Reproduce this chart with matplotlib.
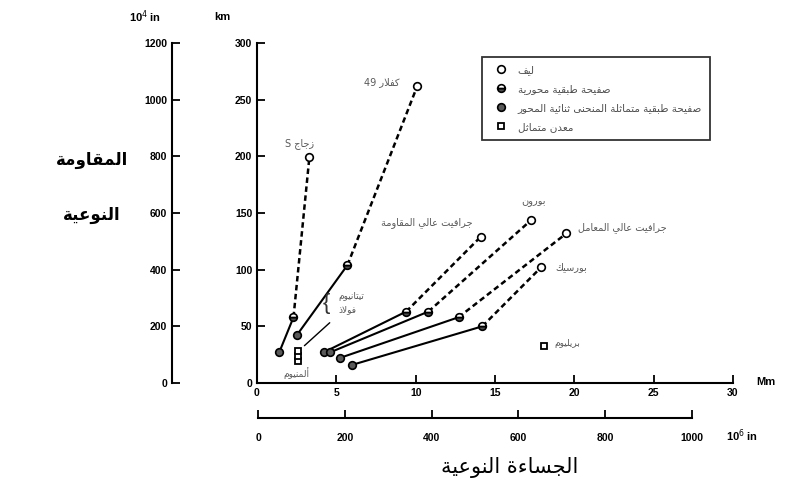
import re
import matplotlib
matplotlib.use("Agg")
import matplotlib.pyplot as plt

plt.rcParams['font.family'] = ['Liberation Sans', 'DejaVu Sans']

# --- Arabic shaping (matplotlib has no bidi / joining) ---
_BASES = [('\u0622', 0xFE81, 2), ('\u0623', 0xFE83, 2), ('\u0624', 0xFE85, 2), ('\u0625', 0xFE87, 2),
          ('\u0626', 0xFE89, 4), ('\u0627', 0xFE8D, 2), ('\u0628', 0xFE8F, 4), ('\u0629', 0xFE93, 2),
          ('\u062A', 0xFE95, 4), ('\u062B', 0xFE99, 4), ('\u062C', 0xFE9D, 4), ('\u062D', 0xFEA1, 4),
          ('\u062E', 0xFEA5, 4), ('\u062F', 0xFEA9, 2), ('\u0630', 0xFEAB, 2), ('\u0631', 0xFEAD, 2),
          ('\u0632', 0xFEAF, 2), ('\u0633', 0xFEB1, 4), ('\u0634', 0xFEB5, 4), ('\u0635', 0xFEB9, 4),
          ('\u0636', 0xFEBD, 4), ('\u0637', 0xFEC1, 4), ('\u0638', 0xFEC5, 4), ('\u0639', 0xFEC9, 4),
          ('\u063A', 0xFECD, 4), ('\u0641', 0xFED1, 4), ('\u0642', 0xFED5, 4), ('\u0643', 0xFED9, 4),
          ('\u0644', 0xFEDD, 4), ('\u0645', 0xFEE1, 4), ('\u0646', 0xFEE5, 4), ('\u0647', 0xFEE9, 4),
          ('\u0648', 0xFEED, 2), ('\u0649', 0xFEEF, 2), ('\u064A', 0xFEF1, 4)]
FORMS = {c: (b, n) for c, b, n in _BASES}
FORMS['\u0621'] = (0xFE80, 1)
LAM_ALEF = {'\u0622': 0xFEF5, '\u0623': 0xFEF7, '\u0625': 0xFEF9, '\u0627': 0xFEFB}


def shape(word):
    out = []
    i = 0
    prev_joins = False
    while i < len(word):
        c = word[i]
        if c not in FORMS:
            out.append(c)
            prev_joins = False
            i += 1
            continue
        nxt = word[i + 1] if i + 1 < len(word) else ''
        if c == '\u0644' and nxt in LAM_ALEF:
            out.append(chr(LAM_ALEF[nxt] + (1 if prev_joins else 0)))
            prev_joins = False
            i += 2
            continue
        base, n = FORMS[c]
        jp = prev_joins and n >= 2
        jn = n == 4 and nxt in FORMS
        if jp and jn:
            out.append(chr(base + 3))
        elif jn:
            out.append(chr(base + 2))
        elif jp:
            out.append(chr(base + 1))
        else:
            out.append(chr(base))
        prev_joins = n == 4
        i += 1
    return ''.join(out)


def ar(text):
    lines = []
    for line in text.split('\n'):
        runs = re.findall(r'[A-Za-z0-9.]+|[^A-Za-z0-9.]+', line)
        runs = [r if re.match(r'[A-Za-z0-9.]', r) else shape(r)[::-1] for r in runs]
        lines.append(''.join(runs[::-1]))
    return '\n'.join(lines)


# --- data: specific modulus (Mm) / specific strength (km) ---
materials = ['زجاج S', 'كفلار 49', 'جرافيت عالي المقاومة', 'بورون', 'جرافيت عالي المعامل', 'بورسيك']
fiber_x = [3.3, 10.1, 14.1, 17.3, 19.5, 17.9]
fiber_y = [199, 262, 129, 144, 132, 102]
uni_x = [2.3, 5.7, 9.4, 10.8, 12.7, 14.2]
uni_y = [58, 104, 63, 63, 58, 50]
quasi_x = [1.4, 2.5, 4.2, 4.6, 5.2, 6.0]
quasi_y = [27, 42, 27, 27, 22, 16]

metal_names = ['ألمنيوم', 'فولاذ', 'تيتانيوم', 'بريليوم']
metal_x = [2.6, 2.6, 2.6, 18.1]
metal_y = [19, 24, 28, 33]

legend_labels = ['ليف', 'صفيحة طبقية محورية', 'صفيحة طبقية متماثلة المنحنى ثنائية المحور', 'معدن متماثل']

fig = plt.figure(figsize=(7.9, 4.93), dpi=100)
ax = fig.add_axes([257 / 790, 110 / 493, 476 / 790, 340 / 493])

for i in range(len(materials)):
    ax.plot([quasi_x[i], uni_x[i]], [quasi_y[i], uni_y[i]], color='black', lw=1.5, zorder=2)
    ax.plot([uni_x[i], fiber_x[i]], [uni_y[i], fiber_y[i]], color='black', lw=1.8,
            dashes=(2.2, 1.4), zorder=2)

mk = dict(ms=5.5, mec='black', mew=1.2, ls='none', zorder=3)
h_fib, = ax.plot(fiber_x, fiber_y, 'o', mfc='white', **mk)
h_uni, = ax.plot(uni_x, uni_y, 'o', mfc='0.3', fillstyle='bottom', markerfacecoloralt='white', **mk)
h_qua, = ax.plot(quasi_x, quasi_y, 'o', mfc='0.35', **mk)
h_met, = ax.plot(metal_x, metal_y, 's', mfc='white', ms=5, mec='black', mew=1.3, ls='none', zorder=3)

# labels for the fibres
fiber_off = [(-10, 14, 'center'), (-18, 4, 'right'), (-8, 14, 'right'),
             (2, 18, 'center'), (12, 6, 'left'), (14, 0, 'left')]
for i, name in enumerate(materials):
    dx, dy, ha = fiber_off[i]
    ax.annotate(ar(name), (fiber_x[i], fiber_y[i]), xytext=(dx, dy), textcoords='offset pixels',
                ha=ha, va='center', fontsize=7, color='0.35', family=['DejaVu Sans'])

ax.annotate(ar(metal_names[0]), (metal_x[0], metal_y[0]), xytext=(-2, -12), textcoords='offset pixels',
            ha='center', va='center', fontsize=6.5, color='0.35', family=['DejaVu Sans'])
ax.annotate(ar(metal_names[3]), (metal_x[3], metal_y[3]), xytext=(10, 2), textcoords='offset pixels',
            ha='left', va='center', fontsize=6.5, color='0.35', family=['DejaVu Sans'])
ax.annotate(ar(metal_names[2] + '\n' + metal_names[1]), (metal_x[2], metal_y[2]), xytext=(40, 48),
            textcoords='offset pixels', ha='left', va='center', fontsize=6.5, color='0.35',
            family=['DejaVu Sans'], linespacing=1.6,
            arrowprops=dict(arrowstyle='-', color='black', lw=1, shrinkA=6, shrinkB=6))
ax.annotate('{', (metal_x[2], metal_y[2]), xytext=(28, 48), textcoords='offset pixels',
            ha='center', va='center', fontsize=16, color='0.2')

ax.set_xlim(0, 30)
ax.set_ylim(0, 300)
ax.set_xticks(range(0, 31, 5))
ax.set_yticks(range(0, 301, 50))
ax.spines[['top', 'right']].set_visible(False)
ax.spines[['left', 'bottom']].set_linewidth(1.5)
ax.tick_params(direction='in', length=6, width=1.3, labelsize=7.5)
for t in ax.get_xticklabels() + ax.get_yticklabels():
    t.set_fontweight('bold')

leg = ax.legend([h_fib, h_uni, h_qua, h_met], [ar(s) for s in legend_labels],
                loc='upper left', bbox_to_anchor=(0.462, 0.975), frameon=True,
                fancybox=False, edgecolor='black', handletextpad=0.6, borderpad=0.8,
                labelspacing=0.85, prop={'family': ['DejaVu Sans'], 'size': 7.5})
leg.get_frame().set_linewidth(1.3)
for t in leg.get_texts():
    t.set_color('0.3')

# second y scale (10^4 in)
ax_in = fig.add_axes([172 / 790, 110 / 493, 0.001, 340 / 493])
ax_in.set_ylim(0, 1200)
ax_in.set_yticks(range(0, 1201, 200))
ax_in.set_xticks([])
ax_in.spines[['top', 'right', 'bottom']].set_visible(False)
ax_in.spines['left'].set_linewidth(1.5)
ax_in.tick_params(direction='in', length=6, width=1.3, labelsize=7.5)
for t in ax_in.get_yticklabels():
    t.set_fontweight('bold')

# second x scale (10^6 in)
ax_bx = fig.add_axes([258 / 790, 75 / 493, 434 / 790, 0.001])
ax_bx.set_xlim(0, 1000)
ax_bx.set_xticks(range(0, 1001, 200))
ax_bx.set_yticks([])
ax_bx.spines[['top', 'right', 'left']].set_visible(False)
ax_bx.spines['bottom'].set_linewidth(1.5)
ax_bx.tick_params(direction='in', length=6, width=1.3, labelsize=7.5, pad=11)
for t in ax_bx.get_xticklabels():
    t.set_fontweight('bold')

# units and axis titles
fig.text(145 / 790, 1 - 17 / 493, '10$^4$ in', ha='center', va='center', fontsize=8, fontweight='bold')
fig.text(222 / 790, 1 - 17 / 493, 'km', ha='center', va='center', fontsize=8, fontweight='bold')
fig.text(766 / 790, 1 - 382 / 493, 'Mm', ha='center', va='center', fontsize=8, fontweight='bold')
fig.text(742 / 790, 1 - 436 / 493, '10$^6$ in', ha='center', va='center', fontsize=8, fontweight='bold')
fig.text(92 / 790, 1 - 160 / 493, ar('المقاومة'), ha='center', va='center', fontsize=12,
         fontweight='bold', family=['DejaVu Sans'])
fig.text(92 / 790, 1 - 215 / 493, ar('النوعية'), ha='center', va='center', fontsize=12,
         fontweight='bold', family=['DejaVu Sans'])
fig.text(510 / 790, 1 - 468 / 493, ar('الجساءة النوعية'), ha='center', va='center', fontsize=15,
         family=['DejaVu Sans'])

fig.savefig('out.png', dpi=100)
